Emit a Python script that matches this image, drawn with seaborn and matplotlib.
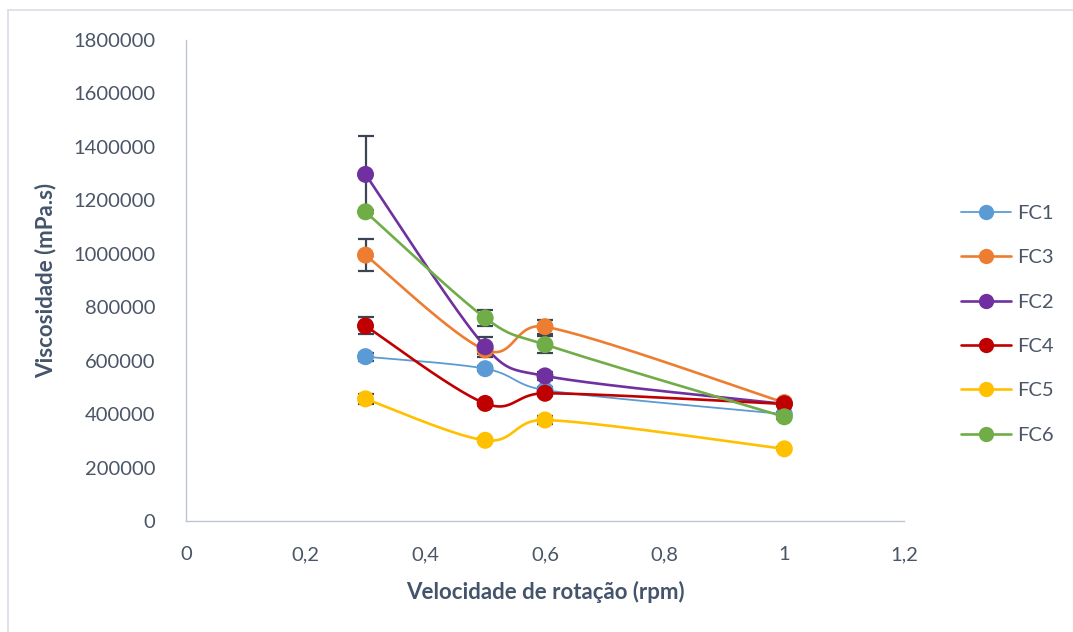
import numpy as np
import pandas as pd
import matplotlib
matplotlib.use("Agg")
import matplotlib.pyplot as plt
from matplotlib.lines import Line2D
from matplotlib.ticker import FuncFormatter, MultipleLocator
import seaborn as sns

# Rotation speed (rpm) and viscosity (mPa.s) per formulation
speeds = [0.3, 0.5, 0.6, 1.0]
series_names = ["FC1", "FC3", "FC2", "FC4", "FC5", "FC6"]
fc1 = [615000, 570000, 490000, 400000]
fc3 = [995000, 640000, 727000, 443000]
fc2 = [1297000, 652000, 543000, 438000]
fc4 = [730000, 440000, 478000, 438000]
fc5 = [457000, 302000, 378000, 270000]
fc6 = [1157000, 760000, 660000, 390000]

# Standard deviations
fc1_err = [15000, 10000, 12000, 8000]
fc3_err = [60000, 15000, 26000, 8000]
fc2_err = [145000, 38000, 15000, 8000]
fc4_err = [32000, 10000, 12000, 8000]
fc5_err = [18000, 8000, 15000, 6000]
fc6_err = [5000, 30000, 33000, 8000]

colors = ["#5B9BD5", "#ED7D31", "#7030A0", "#C00000", "#FFC000", "#70AD47"]
widths = [1.3, 1.9, 1.9, 1.9, 1.9, 1.9]

values = [fc1, fc3, fc2, fc4, fc5, fc6]
errors = [fc1_err, fc3_err, fc2_err, fc4_err, fc5_err, fc6_err]


def smooth_curve(ax, x, y, n=50):
    """Smoothed line through the points: cubic Bezier segments built in
    display space, with control arms of 1/6 of the neighbour chord,
    limited to half of the segment length."""
    P = ax.transData.transform(np.column_stack([x, y]))
    Pe = np.vstack([P[0], P, P[-1]])
    t = np.linspace(0, 1, n)[:, None]
    out = []
    for i in range(len(P) - 1):
        p0, p1, p2, p3 = Pe[i], Pe[i + 1], Pe[i + 2], Pe[i + 3]
        seg_len = np.linalg.norm(p2 - p1)
        a = (p2 - p0) / 6.0
        b = (p3 - p1) / 6.0
        la, lb = np.linalg.norm(a), np.linalg.norm(b)
        if la > seg_len / 2 and la > 0:
            a *= (seg_len / 2) / la
        if lb > seg_len / 2 and lb > 0:
            b *= (seg_len / 2) / lb
        c1 = p1 + a
        c2 = p2 - b
        seg = ((1 - t) ** 3) * p1 + 3 * ((1 - t) ** 2) * t * c1 \
            + 3 * (1 - t) * t ** 2 * c2 + t ** 3 * p2
        out.append(seg if i == 0 else seg[1:])
    pts = ax.transData.inverted().transform(np.vstack(out))
    return pts[:, 0], pts[:, 1]


sns.set_theme(style="white")
plt.rcParams["font.family"] = ["Lato", "DejaVu Sans"]

tick_color = "#4A5566"
label_color = "#44546A"
spine_color = "#BCC5D3"

fig = plt.figure(figsize=(10.73, 6.32), dpi=100)
ax = fig.add_axes([186 / 1073, 1 - 521 / 632, (904 - 186) / 1073, (521 - 40) / 632])
ax.set_xlim(0, 1.2)
ax.set_ylim(0, 1800000)

curve_frames = []
for name, ys in zip(series_names, values):
    cx, cy = smooth_curve(ax, speeds, ys)
    curve_frames.append(pd.DataFrame({"x": cx, "y": cy, "serie": name}))
curves = pd.concat(curve_frames, ignore_index=True)

points = pd.DataFrame({
    "x": np.tile(speeds, len(series_names)),
    "y": np.concatenate(values),
    "err": np.concatenate(errors),
    "serie": np.repeat(series_names, len(speeds)),
})

for name, col, lw in zip(series_names, colors, widths):
    sub = curves[curves["serie"] == name]
    sns.lineplot(data=sub, x="x", y="y", sort=False, estimator=None,
                 color=col, lw=lw, ax=ax, zorder=2, legend=False)

for name in series_names:
    sub = points[points["serie"] == name]
    ax.errorbar(sub["x"], sub["y"], yerr=sub["err"], fmt="none",
                ecolor="#3B4453", elinewidth=1.6, capsize=6, capthick=1.6,
                zorder=3)

sns.scatterplot(data=points, x="x", y="y", hue="serie",
                palette=dict(zip(series_names, colors)), s=150,
                edgecolor="none", ax=ax, zorder=4, legend=False)

ax.set_xlim(0, 1.2)
ax.set_ylim(0, 1800000)
ax.xaxis.set_major_locator(MultipleLocator(0.2))
ax.yaxis.set_major_locator(MultipleLocator(200000))


def comma_fmt(v, pos):
    s = f"{v:.1f}".rstrip("0").rstrip(".")
    return s.replace(".", ",")


ax.xaxis.set_major_formatter(FuncFormatter(comma_fmt))
ax.yaxis.set_major_formatter(FuncFormatter(lambda v, p: f"{int(round(v))}"))

ax.tick_params(axis="both", length=0, labelsize=14.5, colors=tick_color)
ax.tick_params(axis="y", pad=22)
ax.tick_params(axis="x", pad=18)

for side in ["top", "right"]:
    ax.spines[side].set_visible(False)
for side in ["left", "bottom"]:
    ax.spines[side].set_color(spine_color)
    ax.spines[side].set_linewidth(1.0)

ax.set_xlabel("Velocidade de rotação (rpm)", fontsize=16, fontweight="bold",
              color=label_color, labelpad=13)
ax.set_ylabel("Viscosidade (mPa.s)", fontsize=16, fontweight="bold",
              color=label_color, labelpad=12)

handles = [Line2D([0], [0], color=c, lw=w, marker="o", markersize=11,
                  markeredgewidth=0)
           for c, w in zip(colors, widths)]
leg = fig.legend(handles, series_names, loc="upper left",
                 bbox_to_anchor=(951 / 1073, 1 - 195 / 632), frameon=False,
                 fontsize=14.5, labelspacing=1.35, handlelength=2.5,
                 handletextpad=0.3, borderpad=0)
for txt in leg.get_texts():
    txt.set_color(tick_color)

# outer chart-area border
fig.add_artist(Line2D([8 / 1073, 8 / 1073], [0, 1 - 10 / 632],
                      transform=fig.transFigure, color="#D9DEE5", lw=1.2))
fig.add_artist(Line2D([8 / 1073, 1], [1 - 10 / 632, 1 - 10 / 632],
                      transform=fig.transFigure, color="#D9DEE5", lw=1.2))

fig.savefig("out.png", dpi=100)
